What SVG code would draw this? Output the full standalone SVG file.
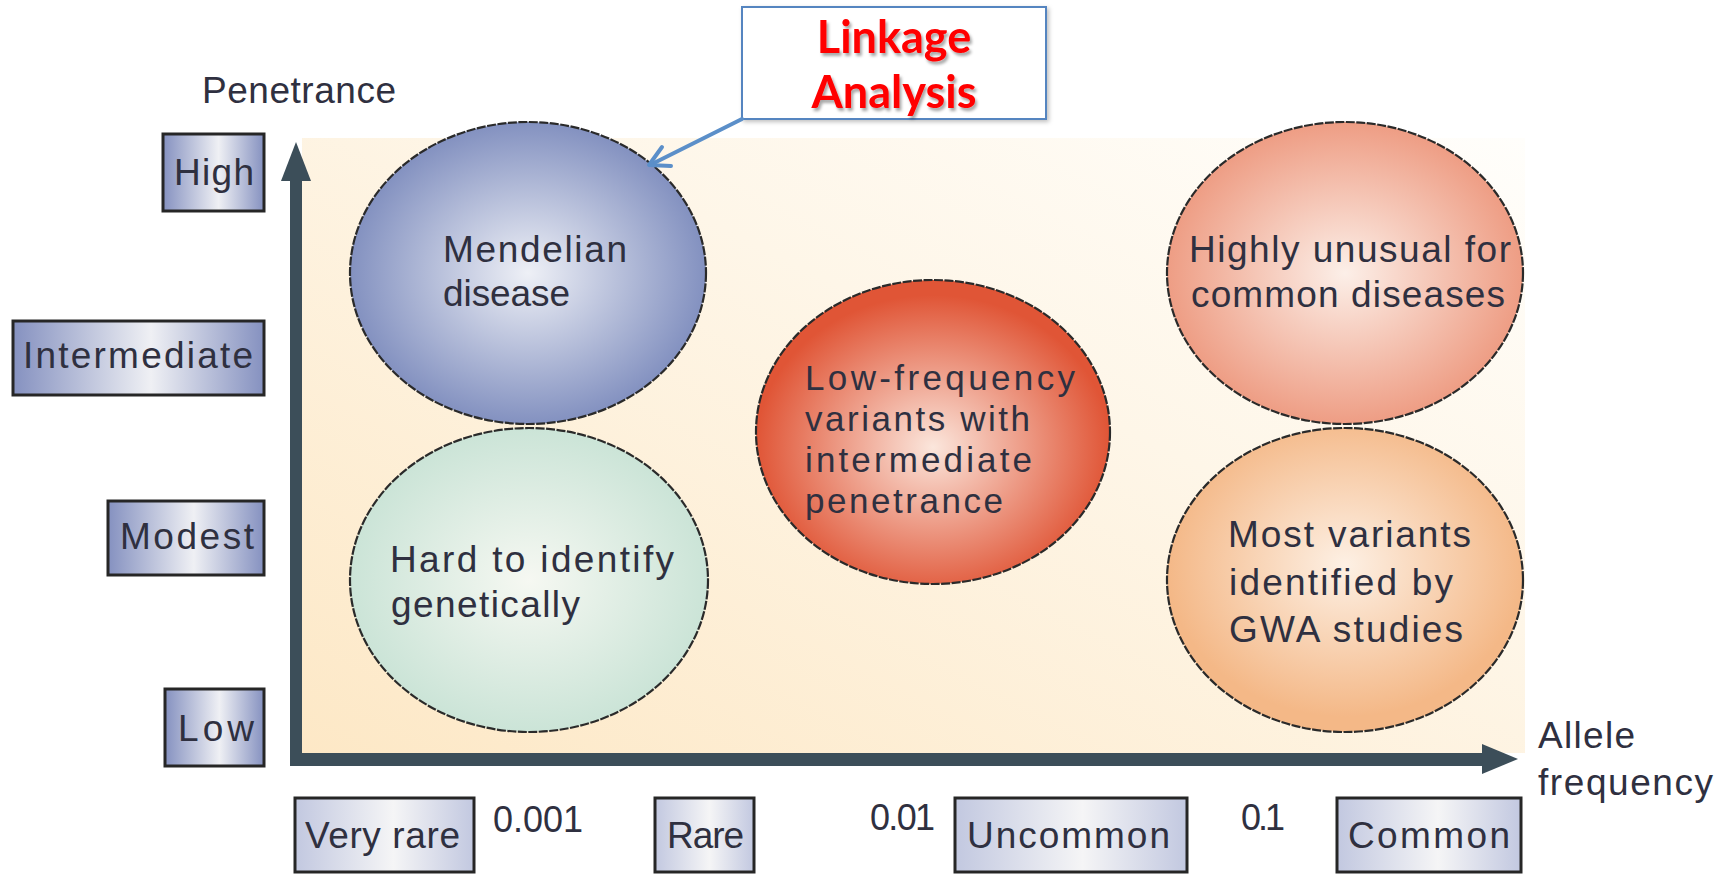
<svg xmlns="http://www.w3.org/2000/svg" width="1735" height="874" viewBox="0 0 1735 874">
  <defs>
    <linearGradient id="bgGrad" x1="0" y1="1" x2="1" y2="0">
      <stop offset="0" stop-color="#fde8c6"/>
      <stop offset="0.6" stop-color="#fef6e8"/>
      <stop offset="1" stop-color="#fffefb"/>
    </linearGradient>
    <linearGradient id="sideBox" x1="0" y1="0" x2="1" y2="0">
      <stop offset="0" stop-color="#8591c0"/>
      <stop offset="0.55" stop-color="#eff0f4"/>
      <stop offset="1" stop-color="#8591c0"/>
    </linearGradient>
    <linearGradient id="baseBox" x1="0" y1="0" x2="1" y2="0">
      <stop offset="0" stop-color="#c2c8e0"/>
      <stop offset="0.55" stop-color="#f5f5f6"/>
      <stop offset="1" stop-color="#c2c8e0"/>
    </linearGradient>
    <radialGradient id="gBlue" cx="0.5" cy="0.5" r="0.5">
      <stop offset="0" stop-color="#eef0f6"/>
      <stop offset="1" stop-color="#8391c0"/>
    </radialGradient>
    <radialGradient id="gGreen" cx="0.5" cy="0.5" r="0.5">
      <stop offset="0" stop-color="#f6f8f2"/>
      <stop offset="1" stop-color="#cbe4d7"/>
    </radialGradient>
    <radialGradient id="gRed" cx="0.5" cy="0.55" r="0.5">
      <stop offset="0" stop-color="#fbe6dc"/>
      <stop offset="1" stop-color="#e05536"/>
    </radialGradient>
    <radialGradient id="gSalmon" cx="0.5" cy="0.5" r="0.5">
      <stop offset="0" stop-color="#fcefe8"/>
      <stop offset="1" stop-color="#ee9d84"/>
    </radialGradient>
    <radialGradient id="gOrange" cx="0.5" cy="0.45" r="0.5">
      <stop offset="0" stop-color="#fdf0e4"/>
      <stop offset="1" stop-color="#f4b887"/>
    </radialGradient>
    <filter id="softShadow" x="-10%" y="-10%" width="130%" height="140%">
      <feDropShadow dx="2" dy="3" stdDeviation="1.5" flood-color="#000" flood-opacity="0.35"/>
    </filter>
    <filter id="boxShadow" x="-5%" y="-5%" width="115%" height="120%">
      <feDropShadow dx="2" dy="2" stdDeviation="2" flood-color="#000" flood-opacity="0.25"/>
    </filter>
  </defs>
  <style>
    .lbl { font-family: "Liberation Sans", Arial, sans-serif; font-size: 37px; fill: #2f3040; }
    .dense { font-size: 35px; }
    .tick { font-family: "Liberation Sans", Arial, sans-serif; font-size: 36px; fill: #2f3040; }
    .side { fill: url(#sideBox); stroke: #262626; stroke-width: 3; }
    .base { fill: url(#baseBox); stroke: #262626; stroke-width: 3; }
    .bubble { stroke: #2a2a2a; stroke-width: 2.2; stroke-dasharray: 9 1.5; }
    .axis { fill: #3c4e59; }
    .callout { font-family: "Lato", "Liberation Sans", sans-serif; font-weight: bold; font-size: 45px; fill: #ff0000; }
    .pointer { fill: none; stroke: #5b8fc9; stroke-width: 4; stroke-linecap: round; stroke-linejoin: round; }
  </style>

  <!-- plotting area -->
  <rect x="302" y="138" width="1223" height="615" fill="url(#bgGrad)"/>

  <!-- axes -->
  <g id="axes">
    <rect class="axis" x="290" y="176" width="12" height="590"/>
    <polygon class="axis" points="296,142 281,181 311,181"/>
    <rect class="axis" x="290" y="753" width="1196" height="13"/>
    <polygon class="axis" points="1518,759 1482,744 1482,774"/>
    <text class="lbl" x="202" y="103" textLength="194">Penetrance</text>
    <text class="lbl" x="1538" y="748" textLength="97">Allele</text>
    <text class="lbl" x="1538" y="795" textLength="175">frequency</text>
  </g>

  <!-- penetrance levels -->
  <g id="level-high">
    <rect class="side" x="163" y="134" width="101" height="77"/>
    <text class="lbl" x="174" y="185" textLength="80">High</text>
  </g>
  <g id="level-intermediate">
    <rect class="side" x="13" y="321" width="251" height="74"/>
    <text class="lbl" x="23" y="368" textLength="230">Intermediate</text>
  </g>
  <g id="level-modest">
    <rect class="side" x="108" y="501" width="156" height="74"/>
    <text class="lbl" x="120" y="549" textLength="134">Modest</text>
  </g>
  <g id="level-low">
    <rect class="side" x="165" y="689" width="99" height="77"/>
    <text class="lbl" x="178" y="741" textLength="76">Low</text>
  </g>

  <!-- allele frequency classes -->
  <g id="freq-very-rare">
    <rect class="base" x="295" y="798" width="179" height="74"/>
    <text class="lbl" x="305" y="848" textLength="155">Very rare</text>
  </g>
  <g id="freq-rare">
    <rect class="base" x="655" y="798" width="99" height="74"/>
    <text class="lbl" x="667" y="848" textLength="77">Rare</text>
  </g>
  <g id="freq-uncommon">
    <rect class="base" x="955" y="798" width="232" height="74"/>
    <text class="lbl" x="967" y="848" textLength="203">Uncommon</text>
  </g>
  <g id="freq-common">
    <rect class="base" x="1337" y="798" width="184" height="74"/>
    <text class="lbl" x="1348" y="848" textLength="162">Common</text>
  </g>
  <g id="ticks">
    <text class="tick" x="493" y="832" textLength="90">0.001</text>
    <text class="tick" x="870" y="830" textLength="65">0.01</text>
    <text class="tick" x="1241" y="830" textLength="44">0.1</text>
  </g>

  <!-- variant classes -->
  <g id="mendelian">
    <ellipse class="bubble" cx="528" cy="273" rx="178" ry="151" fill="url(#gBlue)"/>
    <text class="lbl" x="443" y="262" textLength="184">Mendelian</text>
    <text class="lbl" x="443" y="306" textLength="127">disease</text>
  </g>
  <g id="hard-to-identify">
    <ellipse class="bubble" cx="529" cy="580" rx="179" ry="152" fill="url(#gGreen)"/>
    <text class="lbl" x="390" y="572" textLength="284">Hard to identify</text>
    <text class="lbl" x="391" y="617" textLength="189">genetically</text>
  </g>
  <g id="low-frequency">
    <ellipse class="bubble" cx="933" cy="432" rx="177" ry="152" fill="url(#gRed)"/>
    <text class="lbl dense" x="805" y="390" textLength="270">Low-frequency</text>
    <text class="lbl dense" x="805" y="431" textLength="225">variants with</text>
    <text class="lbl dense" x="805" y="472" textLength="227">intermediate</text>
    <text class="lbl dense" x="805" y="513" textLength="198">penetrance</text>
  </g>
  <g id="highly-unusual">
    <ellipse class="bubble" cx="1345" cy="273" rx="178" ry="151" fill="url(#gSalmon)"/>
    <text class="lbl" x="1189" y="262" textLength="322">Highly unusual for</text>
    <text class="lbl" x="1191" y="307" textLength="314">common diseases</text>
  </g>
  <g id="gwa-variants">
    <ellipse class="bubble" cx="1345" cy="580" rx="178" ry="152" fill="url(#gOrange)"/>
    <text class="lbl" x="1228" y="547" textLength="243">Most variants</text>
    <text class="lbl" x="1229" y="595" textLength="224">identified by</text>
    <text class="lbl" x="1229" y="642" textLength="234">GWA studies</text>
  </g>

  <!-- callout -->
  <g id="linkage-analysis">
    <rect x="742" y="7" width="304" height="112" fill="#ffffff" stroke="#5585c0" stroke-width="2" filter="url(#boxShadow)"/>
    <g filter="url(#softShadow)">
      <text class="callout" x="894" y="53" text-anchor="middle">Linkage</text>
      <text class="callout" x="894" y="108" text-anchor="middle">Analysis</text>
    </g>
  </g>

  <g id="connectors">
    <line class="pointer" x1="742" y1="119" x2="650" y2="165"/>
    <polyline class="pointer" points="662,147 649,165 671,166"/>
  </g>
</svg>
